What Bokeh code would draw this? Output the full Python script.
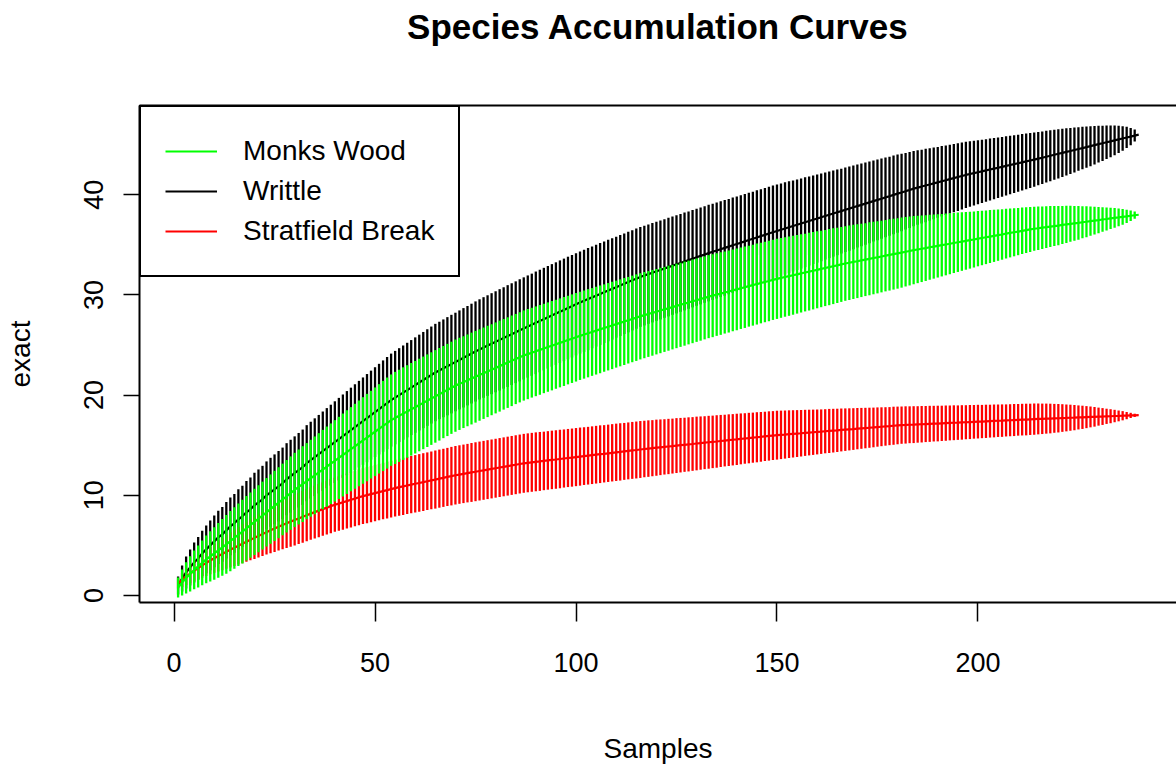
from bokeh.plotting import figure
from bokeh.models import (Range1d, FixedTicker, LinearAxis, Legend, LegendItem,
                          ColumnDataSource)
from bokeh.embed import file_html
from bokeh.resources import INLINE

# ---------------------------------------------------------------------------
# Species accumulation ("exact" method): mean richness and its standard
# deviation for every number of pooled samples, three sites.
# ---------------------------------------------------------------------------
samples = list(range(1, 241))

writtle_mean = [
    1.00, 1.70, 2.30, 2.80, 3.30, 3.70, 4.20, 4.60, 5.00, 5.40,
    5.80, 6.10, 6.50, 6.90, 7.20, 7.60, 7.90, 8.30, 8.60, 9.00,
    9.30, 9.60, 10.00, 10.30, 10.60, 10.90, 11.20, 11.60, 11.90, 12.20,
    12.50, 12.80, 13.20, 13.50, 13.80, 14.10, 14.40, 14.70, 15.00, 15.30,
    15.60, 15.90, 16.20, 16.50, 16.80, 17.10, 17.40, 17.70, 18.00, 18.30,
    18.60, 18.90, 19.20, 19.50, 19.75, 20.00, 20.25, 20.50, 20.75, 21.00,
    21.25, 21.50, 21.75, 22.00, 22.25, 22.46, 22.67, 22.88, 23.09, 23.30,
    23.51, 23.72, 23.93, 24.14, 24.35, 24.56, 24.75, 24.94, 25.13, 25.32,
    25.51, 25.70, 25.89, 26.08, 26.27, 26.46, 26.65, 26.84, 27.02, 27.21,
    27.39, 27.58, 27.76, 27.95, 28.13, 28.32, 28.50, 28.69, 28.87, 29.06,
    29.24, 29.41, 29.58, 29.75, 29.92, 30.09, 30.26, 30.43, 30.60, 30.77,
    30.94, 31.11, 31.28, 31.45, 31.62, 31.79, 31.93, 32.07, 32.21, 32.35,
    32.49, 32.63, 32.77, 32.91, 33.05, 33.19, 33.33, 33.47, 33.61, 33.75,
    33.89, 34.03, 34.17, 34.30, 34.43, 34.56, 34.69, 34.82, 34.95, 35.08,
    35.21, 35.34, 35.47, 35.60, 35.73, 35.86, 35.99, 36.12, 36.25, 36.38,
    36.50, 36.63, 36.75, 36.88, 37.00, 37.12, 37.25, 37.37, 37.50, 37.62,
    37.74, 37.87, 37.99, 38.12, 38.24, 38.36, 38.49, 38.61, 38.74, 38.86,
    38.98, 39.11, 39.23, 39.36, 39.48, 39.60, 39.73, 39.85, 39.98, 40.10,
    40.22, 40.35, 40.47, 40.60, 40.71, 40.81, 40.92, 41.02, 41.13, 41.23,
    41.34, 41.44, 41.55, 41.65, 41.76, 41.86, 41.97, 42.06, 42.15, 42.24,
    42.33, 42.42, 42.51, 42.60, 42.69, 42.78, 42.87, 42.96, 43.05, 43.14,
    43.23, 43.32, 43.41, 43.50, 43.60, 43.69, 43.79, 43.88, 43.98, 44.08,
    44.17, 44.27, 44.36, 44.46, 44.56, 44.65, 44.75, 44.84, 44.94, 45.04,
    45.13, 45.23, 45.32, 45.42, 45.52, 45.61, 45.71, 45.80, 45.90, 46.00,
]

writtle_sd = [
    0.45, 0.65, 0.80, 0.90, 1.00, 1.07, 1.13, 1.19, 1.24, 1.29,
    1.33, 1.37, 1.41, 1.44, 1.47, 1.50, 1.53, 1.56, 1.59, 1.62,
    1.64, 1.67, 1.69, 1.72, 1.74, 1.76, 1.78, 1.80, 1.82, 1.84,
    1.86, 1.88, 1.90, 1.92, 1.94, 1.96, 1.98, 2.00, 2.02, 2.04,
    2.06, 2.08, 2.10, 2.12, 2.14, 2.16, 2.18, 2.20, 2.22, 2.24,
    2.26, 2.28, 2.30, 2.32, 2.33, 2.34, 2.35, 2.36, 2.37, 2.38,
    2.39, 2.40, 2.41, 2.42, 2.43, 2.43, 2.44, 2.45, 2.46, 2.46,
    2.47, 2.48, 2.48, 2.49, 2.50, 2.50, 2.51, 2.51, 2.52, 2.52,
    2.53, 2.53, 2.54, 2.54, 2.54, 2.55, 2.55, 2.55, 2.55, 2.56,
    2.56, 2.56, 2.56, 2.56, 2.56, 2.56, 2.56, 2.56, 2.56, 2.55,
    2.55, 2.55, 2.55, 2.54, 2.54, 2.54, 2.53, 2.53, 2.53, 2.52,
    2.52, 2.51, 2.51, 2.50, 2.50, 2.49, 2.49, 2.48, 2.48, 2.47,
    2.47, 2.46, 2.46, 2.45, 2.45, 2.44, 2.44, 2.43, 2.43, 2.42,
    2.42, 2.41, 2.41, 2.40, 2.40, 2.39, 2.39, 2.38, 2.38, 2.37,
    2.37, 2.36, 2.36, 2.35, 2.35, 2.34, 2.34, 2.33, 2.33, 2.32,
    2.31, 2.30, 2.29, 2.27, 2.26, 2.25, 2.24, 2.22, 2.21, 2.20,
    2.19, 2.17, 2.16, 2.15, 2.14, 2.12, 2.11, 2.10, 2.09, 2.07,
    2.06, 2.05, 2.04, 2.02, 2.01, 2.00, 1.99, 1.97, 1.96, 1.95,
    1.93, 1.91, 1.90, 1.88, 1.86, 1.84, 1.83, 1.81, 1.79, 1.77,
    1.76, 1.74, 1.72, 1.70, 1.69, 1.67, 1.65, 1.63, 1.62, 1.60,
    1.58, 1.56, 1.55, 1.53, 1.51, 1.49, 1.48, 1.46, 1.44, 1.42,
    1.41, 1.39, 1.37, 1.35, 1.33, 1.31, 1.29, 1.27, 1.25, 1.23,
    1.20, 1.18, 1.15, 1.12, 1.09, 1.06, 1.03, 1.00, 0.96, 0.92,
    0.88, 0.84, 0.79, 0.74, 0.68, 0.61, 0.53, 0.43, 0.30, 0.00,
]

monks_mean = [
    0.80, 1.30, 1.75, 2.15, 2.55, 2.90, 3.25, 3.60, 3.90, 4.20,
    4.50, 4.80, 5.10, 5.42, 5.74, 6.06, 6.38, 6.70, 7.02, 7.34,
    7.66, 7.98, 8.30, 8.62, 8.94, 9.26, 9.58, 9.90, 10.22, 10.54,
    10.83, 11.12, 11.41, 11.70, 11.99, 12.28, 12.57, 12.86, 13.15, 13.44,
    13.73, 14.02, 14.31, 14.60, 14.89, 15.18, 15.47, 15.76, 16.05, 16.34,
    16.63, 16.92, 17.21, 17.50, 17.72, 17.93, 18.15, 18.36, 18.58, 18.79,
    19.01, 19.22, 19.44, 19.65, 19.87, 20.08, 20.30, 20.51, 20.73, 20.94,
    21.12, 21.29, 21.47, 21.65, 21.83, 22.00, 22.18, 22.36, 22.53, 22.71,
    22.89, 23.07, 23.24, 23.42, 23.60, 23.77, 23.95, 24.09, 24.23, 24.37,
    24.51, 24.65, 24.79, 24.93, 25.07, 25.21, 25.35, 25.49, 25.63, 25.77,
    25.91, 26.04, 26.17, 26.30, 26.43, 26.56, 26.69, 26.82, 26.95, 27.08,
    27.21, 27.34, 27.47, 27.60, 27.73, 27.86, 27.98, 28.09, 28.21, 28.32,
    28.44, 28.55, 28.67, 28.78, 28.90, 29.01, 29.13, 29.24, 29.36, 29.47,
    29.59, 29.70, 29.82, 29.92, 30.03, 30.13, 30.24, 30.34, 30.45, 30.55,
    30.66, 30.76, 30.87, 30.97, 31.08, 31.18, 31.29, 31.39, 31.50, 31.60,
    31.69, 31.78, 31.87, 31.96, 32.05, 32.14, 32.23, 32.32, 32.41, 32.50,
    32.59, 32.68, 32.77, 32.86, 32.95, 33.04, 33.13, 33.21, 33.29, 33.36,
    33.44, 33.52, 33.60, 33.68, 33.75, 33.83, 33.91, 33.99, 34.07, 34.14,
    34.22, 34.30, 34.38, 34.46, 34.53, 34.60, 34.67, 34.75, 34.82, 34.89,
    34.96, 35.03, 35.10, 35.18, 35.25, 35.32, 35.39, 35.46, 35.53, 35.61,
    35.68, 35.75, 35.82, 35.89, 35.96, 36.03, 36.11, 36.18, 36.25, 36.32,
    36.39, 36.46, 36.53, 36.60, 36.65, 36.71, 36.76, 36.82, 36.87, 36.92,
    36.98, 37.03, 37.09, 37.14, 37.19, 37.25, 37.30, 37.36, 37.41, 37.46,
    37.52, 37.57, 37.63, 37.68, 37.73, 37.79, 37.84, 37.90, 37.95, 38.00,
]

monks_sd = [
    0.50, 0.65, 0.78, 0.88, 0.97, 1.05, 1.12, 1.19, 1.25, 1.31,
    1.37, 1.42, 1.47, 1.50, 1.53, 1.56, 1.59, 1.61, 1.63, 1.65,
    1.67, 1.69, 1.71, 1.73, 1.75, 1.77, 1.79, 1.81, 1.83, 1.85,
    1.87, 1.89, 1.90, 1.92, 1.94, 1.96, 1.98, 2.00, 2.01, 2.03,
    2.05, 2.07, 2.09, 2.10, 2.12, 2.14, 2.16, 2.18, 2.19, 2.21,
    2.23, 2.25, 2.27, 2.28, 2.30, 2.30, 2.31, 2.31, 2.31, 2.31,
    2.31, 2.31, 2.31, 2.31, 2.31, 2.31, 2.30, 2.30, 2.30, 2.30,
    2.30, 2.29, 2.29, 2.29, 2.29, 2.28, 2.28, 2.28, 2.27, 2.27,
    2.27, 2.26, 2.26, 2.26, 2.25, 2.25, 2.25, 2.25, 2.24, 2.24,
    2.24, 2.23, 2.23, 2.23, 2.22, 2.22, 2.22, 2.21, 2.21, 2.21,
    2.20, 2.20, 2.20, 2.19, 2.19, 2.19, 2.18, 2.18, 2.18, 2.17,
    2.17, 2.17, 2.16, 2.16, 2.16, 2.15, 2.15, 2.14, 2.14, 2.13,
    2.13, 2.12, 2.12, 2.11, 2.11, 2.10, 2.10, 2.09, 2.09, 2.08,
    2.08, 2.07, 2.07, 2.07, 2.06, 2.06, 2.05, 2.05, 2.04, 2.04,
    2.03, 2.03, 2.02, 2.02, 2.02, 2.01, 2.01, 2.01, 2.00, 2.00,
    1.99, 1.98, 1.98, 1.97, 1.96, 1.95, 1.94, 1.94, 1.93, 1.92,
    1.91, 1.90, 1.90, 1.89, 1.88, 1.87, 1.86, 1.86, 1.85, 1.84,
    1.83, 1.82, 1.82, 1.81, 1.80, 1.79, 1.78, 1.78, 1.77, 1.76,
    1.75, 1.73, 1.72, 1.70, 1.68, 1.66, 1.64, 1.62, 1.60, 1.58,
    1.56, 1.54, 1.52, 1.50, 1.48, 1.46, 1.44, 1.42, 1.40, 1.38,
    1.36, 1.34, 1.32, 1.30, 1.28, 1.26, 1.24, 1.22, 1.20, 1.18,
    1.16, 1.14, 1.12, 1.10, 1.08, 1.06, 1.04, 1.02, 1.00, 0.98,
    0.95, 0.93, 0.90, 0.87, 0.84, 0.80, 0.77, 0.73, 0.69, 0.65,
    0.61, 0.57, 0.53, 0.49, 0.44, 0.39, 0.33, 0.26, 0.18, 0.00,
]

stratfield_mean = [
    1.20, 1.55, 1.88, 2.18, 2.47, 2.74, 3.00, 3.25, 3.49, 3.72,
    3.94, 4.15, 4.36, 4.56, 4.76, 4.96, 5.16, 5.36, 5.56, 5.75,
    5.94, 6.13, 6.32, 6.50, 6.68, 6.86, 7.04, 7.21, 7.37, 7.53,
    7.69, 7.85, 8.01, 8.17, 8.32, 8.47, 8.62, 8.77, 8.92, 9.05,
    9.17, 9.30, 9.42, 9.55, 9.67, 9.80, 9.92, 10.02, 10.12, 10.22,
    10.32, 10.42, 10.52, 10.62, 10.72, 10.81, 10.89, 10.98, 11.06, 11.15,
    11.23, 11.32, 11.40, 11.49, 11.57, 11.66, 11.74, 11.83, 11.91, 12.00,
    12.07, 12.14, 12.21, 12.28, 12.35, 12.42, 12.49, 12.56, 12.63, 12.70,
    12.77, 12.84, 12.91, 12.98, 13.05, 13.12, 13.19, 13.24, 13.29, 13.34,
    13.38, 13.43, 13.48, 13.53, 13.57, 13.62, 13.67, 13.72, 13.76, 13.81,
    13.86, 13.91, 13.95, 14.00, 14.05, 14.10, 14.14, 14.19, 14.24, 14.29,
    14.33, 14.38, 14.43, 14.48, 14.52, 14.57, 14.62, 14.66, 14.70, 14.75,
    14.79, 14.83, 14.87, 14.91, 14.96, 15.00, 15.04, 15.08, 15.12, 15.17,
    15.21, 15.25, 15.29, 15.33, 15.37, 15.42, 15.46, 15.50, 15.54, 15.58,
    15.63, 15.67, 15.71, 15.75, 15.79, 15.83, 15.88, 15.92, 15.96, 16.00,
    16.03, 16.06, 16.10, 16.13, 16.16, 16.19, 16.23, 16.26, 16.29, 16.32,
    16.35, 16.39, 16.42, 16.45, 16.48, 16.52, 16.55, 16.58, 16.61, 16.65,
    16.68, 16.71, 16.74, 16.77, 16.81, 16.84, 16.87, 16.90, 16.94, 16.97,
    17.00, 17.02, 17.04, 17.05, 17.07, 17.09, 17.11, 17.13, 17.15, 17.16,
    17.18, 17.20, 17.22, 17.24, 17.25, 17.27, 17.29, 17.31, 17.33, 17.35,
    17.36, 17.38, 17.40, 17.42, 17.44, 17.45, 17.47, 17.49, 17.51, 17.53,
    17.55, 17.56, 17.58, 17.60, 17.62, 17.63, 17.65, 17.66, 17.68, 17.69,
    17.71, 17.72, 17.74, 17.75, 17.77, 17.78, 17.80, 17.82, 17.83, 17.85,
    17.86, 17.88, 17.89, 17.91, 17.92, 17.94, 17.95, 17.97, 17.98, 18.00,
]

stratfield_sd = [
    0.25, 0.35, 0.42, 0.48, 0.53, 0.57, 0.61, 0.65, 0.69, 0.73,
    0.77, 0.81, 0.85, 0.88, 0.91, 0.94, 0.97, 1.00, 1.02, 1.05,
    1.07, 1.10, 1.12, 1.14, 1.17, 1.19, 1.21, 1.23, 1.25, 1.27,
    1.28, 1.29, 1.30, 1.31, 1.32, 1.33, 1.33, 1.34, 1.35, 1.35,
    1.36, 1.37, 1.37, 1.38, 1.38, 1.39, 1.39, 1.40, 1.40, 1.41,
    1.41, 1.41, 1.42, 1.42, 1.42, 1.42, 1.43, 1.43, 1.43, 1.43,
    1.44, 1.44, 1.44, 1.44, 1.45, 1.45, 1.45, 1.45, 1.46, 1.46,
    1.46, 1.46, 1.46, 1.47, 1.47, 1.47, 1.47, 1.47, 1.47, 1.47,
    1.47, 1.47, 1.47, 1.47, 1.47, 1.47, 1.47, 1.47, 1.47, 1.47,
    1.47, 1.46, 1.46, 1.46, 1.46, 1.46, 1.45, 1.45, 1.45, 1.45,
    1.45, 1.44, 1.44, 1.44, 1.44, 1.44, 1.43, 1.43, 1.43, 1.43,
    1.43, 1.42, 1.42, 1.42, 1.42, 1.42, 1.41, 1.41, 1.40, 1.40,
    1.39, 1.38, 1.38, 1.37, 1.37, 1.36, 1.35, 1.35, 1.34, 1.34,
    1.33, 1.32, 1.32, 1.31, 1.31, 1.30, 1.29, 1.29, 1.28, 1.28,
    1.27, 1.26, 1.26, 1.25, 1.25, 1.24, 1.23, 1.23, 1.22, 1.22,
    1.21, 1.20, 1.19, 1.18, 1.17, 1.16, 1.15, 1.14, 1.13, 1.12,
    1.11, 1.10, 1.10, 1.09, 1.08, 1.07, 1.06, 1.05, 1.04, 1.03,
    1.02, 1.01, 1.00, 0.99, 0.98, 0.97, 0.96, 0.95, 0.95, 0.94,
    0.93, 0.93, 0.92, 0.92, 0.91, 0.91, 0.90, 0.90, 0.89, 0.89,
    0.88, 0.88, 0.87, 0.87, 0.86, 0.86, 0.85, 0.85, 0.84, 0.84,
    0.83, 0.83, 0.82, 0.82, 0.81, 0.81, 0.80, 0.80, 0.80, 0.79,
    0.79, 0.79, 0.78, 0.78, 0.77, 0.76, 0.75, 0.74, 0.72, 0.71,
    0.69, 0.67, 0.65, 0.63, 0.60, 0.58, 0.55, 0.52, 0.49, 0.45,
    0.42, 0.38, 0.35, 0.31, 0.27, 0.23, 0.18, 0.13, 0.08, 0.00,
]

x_ticks = [0, 50, 100, 150, 200]
y_ticks = [0, 10, 20, 30, 40]
CI_MULT = 2  # error bars span mean +/- 2 sd

FONT = "Liberation Sans"

p = figure(width=1176, height=769, output_backend="svg", toolbar_location=None,
           x_range=Range1d(-8.6, 249.4), y_range=Range1d(-0.7, 48.9),
           min_border_left=139, min_border_right=0,
           min_border_top=105, min_border_bottom=167)
p.outline_line_color = None
p.grid.visible = False
p.background_fill_color = "white"
p.border_fill_color = "white"

# bottom axis
xa = p.xaxis[0]
xa.ticker = FixedTicker(ticks=x_ticks)
xa.axis_line_width = 2
xa.axis_line_color = "black"
xa.major_tick_in = 0
xa.major_tick_out = 19
xa.major_tick_line_width = 1.5
xa.major_tick_line_color = "black"
xa.minor_tick_line_color = None
xa.major_label_text_font = FONT
xa.major_label_text_font_size = "27px"
xa.major_label_text_color = "black"
xa.major_label_standoff = 31
xa.axis_label = "Samples"
xa.axis_label_text_font = FONT
xa.axis_label_text_font_size = "28px"
xa.axis_label_text_font_style = "normal"
xa.axis_label_text_color = "black"
xa.axis_label_standoff = 58

# left axis
ya = p.yaxis[0]
ya.ticker = FixedTicker(ticks=y_ticks)
ya.axis_line_width = 2
ya.axis_line_color = "black"
ya.major_tick_in = 0
ya.major_tick_out = 16
ya.major_tick_line_width = 1.5
ya.major_tick_line_color = "black"
ya.minor_tick_line_color = None
ya.major_label_orientation = "vertical"
ya.major_label_text_font = FONT
ya.major_label_text_font_size = "27px"
ya.major_label_text_color = "black"
ya.major_label_standoff = 20
ya.axis_label = "exact"
ya.axis_label_text_font = FONT
ya.axis_label_text_font_size = "28px"
ya.axis_label_text_font_style = "normal"
ya.axis_label_text_color = "black"
ya.axis_label_standoff = 46

# top edge of the plotting box; its label carries the main title
top = LinearAxis(ticker=FixedTicker(ticks=[]), axis_line_width=2,
                 axis_line_color="black", major_tick_line_color=None,
                 major_tick_in=0, major_tick_out=0, major_label_standoff=0,
                 minor_tick_line_color=None, major_label_text_font_size="0px",
                 axis_label="Species Accumulation Curves",
                 axis_label_text_font=FONT, axis_label_text_font_size="35px",
                 axis_label_text_font_style="bold",
                 axis_label_text_color="black", axis_label_standoff=60)
p.add_layout(top, "above")


def draw_curve(mean, sd, color):
    lo = [m - CI_MULT * s for m, s in zip(mean, sd)]
    hi = [m + CI_MULT * s for m, s in zip(mean, sd)]
    src = ColumnDataSource(dict(x=samples, mean=mean, lo=lo, hi=hi))
    p.segment(x0="x", y0="lo", x1="x", y1="hi", source=src,
              line_color=color, line_width=2.3)
    return p.line("x", "mean", source=src, line_color=color, line_width=2.2)


r_writtle = draw_curve(writtle_mean, writtle_sd, "#000000")
r_strat = draw_curve(stratfield_mean, stratfield_sd, "#FF0000")
r_monks = draw_curve(monks_mean, monks_sd, "#00FF00")

legend = Legend(items=[
    LegendItem(label="Monks Wood", renderers=[r_monks]),
    LegendItem(label="Writtle", renderers=[r_writtle]),
    LegendItem(label="Stratfield Break", renderers=[r_strat]),
], location="top_left")
legend.margin = 0
legend.padding = 24
legend.spacing = 0
legend.label_height = 40
legend.glyph_height = 40
legend.glyph_width = 52
legend.label_standoff = 26
legend.label_text_font = FONT
legend.label_text_font_size = "28px"
legend.label_text_color = "black"
legend.border_line_color = "black"
legend.border_line_alpha = 1.0
legend.border_line_width = 2
legend.background_fill_color = "white"
legend.background_fill_alpha = 1.0
p.add_layout(legend)

open("out.html", "w").write(file_html(p, INLINE))
